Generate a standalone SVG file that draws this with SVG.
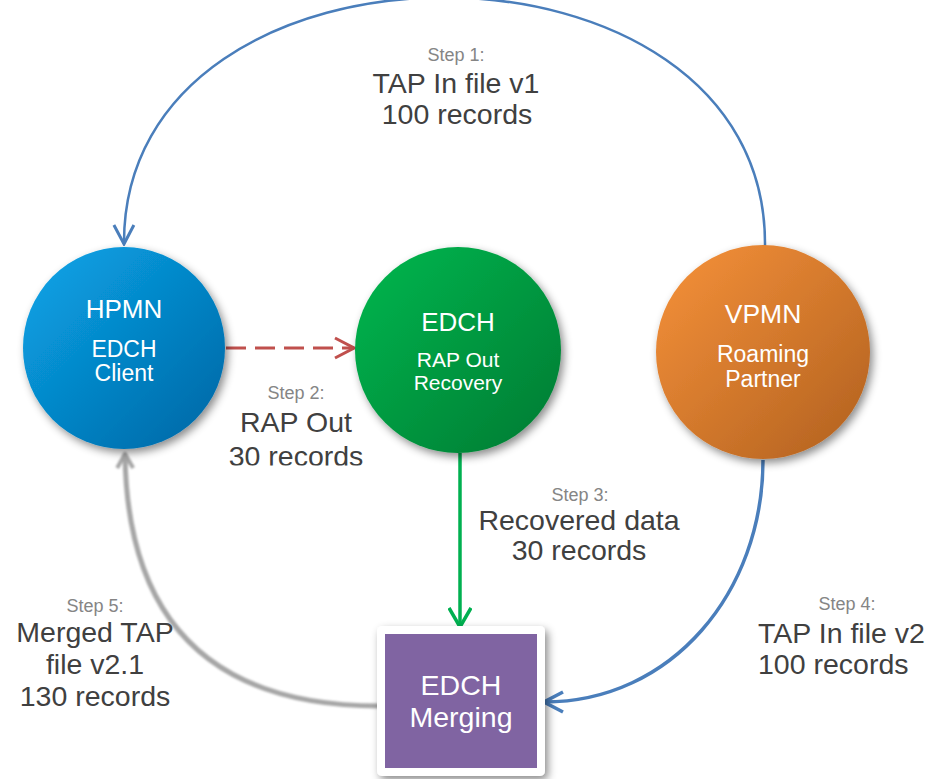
<svg xmlns="http://www.w3.org/2000/svg" width="936" height="779" viewBox="0 0 936 779">
  <defs>
    <style>
      text { font-family: "Liberation Sans", Arial, sans-serif; text-anchor: middle; }
      .node { fill: #ffffff; }
      .step { fill: #858585; font-size: 18px; }
      .lbl { fill: #404040; font-size: 28.5px; }
      .conn { fill: none; stroke-linecap: butt; }
    </style>
    <linearGradient id="gBlue" x1="0" y1="0" x2="1" y2="1">
      <stop offset="0" stop-color="#0aa6ea"/>
      <stop offset="1" stop-color="#0065a3"/>
    </linearGradient>
    <linearGradient id="gGreen" x1="0" y1="0" x2="1" y2="1">
      <stop offset="0" stop-color="#00b84f"/>
      <stop offset="1" stop-color="#007a32"/>
    </linearGradient>
    <linearGradient id="gOrange" x1="0" y1="0" x2="1" y2="1">
      <stop offset="0" stop-color="#f7923a"/>
      <stop offset="1" stop-color="#b0601f"/>
    </linearGradient>
    <filter id="shadow" x="-20%" y="-20%" width="150%" height="150%">
      <feDropShadow dx="3" dy="4" stdDeviation="4" flood-color="#000" flood-opacity="0.45"/>
    </filter>
    <filter id="soft" x="-10%" y="-10%" width="120%" height="120%">
      <feGaussianBlur stdDeviation="0.9"/>
    </filter>
    <marker id="mBlue" markerUnits="userSpaceOnUse" viewBox="-22 -12 24 24" refX="0" refY="0" markerWidth="24" markerHeight="24" orient="auto">
      <path d="M-19,-10 L0,0 L-19,10" fill="none" stroke="#4a7ebb" stroke-width="3"/>
    </marker>
    <marker id="mBlue2" markerUnits="userSpaceOnUse" viewBox="-22 -12 24 24" refX="0" refY="0" markerWidth="24" markerHeight="24" orient="auto">
      <path d="M-19,-10 L0,0 L-19,10" fill="none" stroke="#4a7ebb" stroke-width="3.5"/>
    </marker>
    <marker id="mRed" markerUnits="userSpaceOnUse" viewBox="-22 -12 24 24" refX="0" refY="0" markerWidth="24" markerHeight="24" orient="auto">
      <path d="M-19,-10 L0,0 L-19,10" fill="none" stroke="#c0504d" stroke-width="3"/>
    </marker>
    <marker id="mGreen" markerUnits="userSpaceOnUse" viewBox="-22 -12 24 24" refX="0" refY="0" markerWidth="24" markerHeight="24" orient="auto">
      <path d="M-19,-11 L0,0 L-19,11" fill="none" stroke="#00b050" stroke-width="3.5"/>
    </marker>
    <marker id="mGrey" markerUnits="userSpaceOnUse" viewBox="-22 -12 24 24" refX="0" refY="0" markerWidth="24" markerHeight="24" orient="auto">
      <path d="M-14,-8 L0,0 L-14,8" fill="none" stroke="#a6a6a6" stroke-width="4"/>
    </marker>
    <clipPath id="clip2">
      <rect x="200" y="380" width="200" height="85.5"/>
    </clipPath>
  </defs>

  <g id="connectors">
    <path id="step1" class="conn" d="M765,246 C768,-85 122,-85 124,244" stroke="#4a7ebb" stroke-width="2.5" marker-end="url(#mBlue)"/>
    <path id="step2" class="conn" d="M226,348 L354,348" stroke="#c0504d" stroke-width="3" stroke-dasharray="20,9" marker-end="url(#mRed)"/>
    <path id="step3" class="conn" d="M460,453 L460,627" stroke="#00b050" stroke-width="3.5" marker-end="url(#mGreen)"/>
    <path id="step4" class="conn" d="M763,460 C763,592 672,702 544,702" stroke="#4a7ebb" stroke-width="3.5" marker-end="url(#mBlue2)"/>
    <g filter="url(#soft)">
      <path id="step5" class="conn" d="M380,706 Q128,706 125,454" stroke="#a6a6a6" stroke-width="5" marker-end="url(#mGrey)"/>
    </g>
  </g>

  <g id="hpmn">
    <circle cx="124" cy="348" r="101" fill="url(#gBlue)" filter="url(#shadow)"/>
    <text class="node" x="124" y="318" font-size="26">HPMN</text>
    <text class="node" x="124" y="357" font-size="23">EDCH</text>
    <text class="node" x="124" y="381" font-size="23">Client</text>
  </g>

  <g id="edch">
    <circle cx="458" cy="350" r="103" fill="url(#gGreen)" filter="url(#shadow)"/>
    <text class="node" x="458" y="331" font-size="26">EDCH</text>
    <text class="node" x="458" y="367" font-size="21">RAP Out</text>
    <text class="node" x="458" y="390" font-size="21">Recovery</text>
  </g>

  <g id="vpmn">
    <circle cx="763" cy="352" r="107" fill="url(#gOrange)" filter="url(#shadow)"/>
    <text class="node" x="763" y="323" font-size="26.5">VPMN</text>
    <text class="node" x="763" y="362" font-size="23">Roaming</text>
    <text class="node" x="763" y="387" font-size="23">Partner</text>
  </g>

  <g id="merging">
    <rect x="377" y="626" width="168" height="150" rx="5" fill="#ffffff" filter="url(#shadow)"/>
    <rect x="385" y="634" width="152" height="134" fill="#8064a2"/>
    <text class="node" x="461" y="695" font-size="28.5">EDCH</text>
    <text class="node" x="461" y="727" font-size="28.5">Merging</text>
  </g>

  <g id="labels">
    <text class="step" x="456" y="61">Step 1:</text>
    <text class="lbl" x="456" y="93">TAP In file v1</text>
    <text class="lbl" x="457" y="124">100 records</text>

    <text class="step" x="296" y="399">Step 2:</text>
    <text class="lbl" x="296" y="432">RAP Out</text>
    <text class="lbl" x="296" y="466" clip-path="url(#clip2)">30 records</text>

    <text class="step" x="580" y="501">Step 3:</text>
    <text class="lbl" x="579" y="530" font-size="26.5">Recovered data</text>
    <text class="lbl" x="579" y="560" font-size="26.5">30 records</text>

    <text class="step" x="847" y="610">Step 4:</text>
    <text class="lbl" x="758" y="643" style="text-anchor:start">TAP In file v2</text>
    <text class="lbl" x="758" y="674" style="text-anchor:start">100 records</text>

    <text class="step" x="95" y="612">Step 5:</text>
    <text class="lbl" x="95" y="642">Merged TAP</text>
    <text class="lbl" x="95" y="674">file v2.1</text>
    <text class="lbl" x="95" y="706">130 records</text>
  </g>
</svg>
